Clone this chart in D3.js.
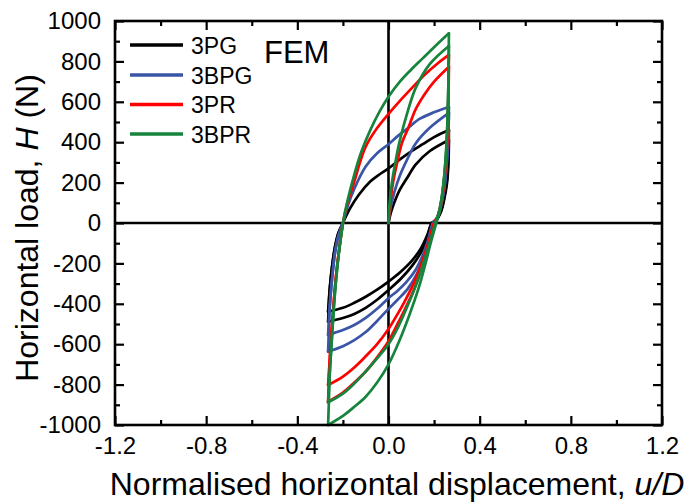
<!DOCTYPE html>
<html>
<head>
<meta charset="utf-8">
<script src="https://cdn.jsdelivr.net/npm/d3@7"></script>
<style>
  html, body { margin: 0; padding: 0; background: #fff; }
  svg { display: block; }
  text { font-family: "Liberation Sans", Arial, sans-serif; fill: #000; }
</style>
</head>
<body>
<svg id="chart" width="694" height="503"></svg>
<script>
// ---------------- data ----------------
const seriesNames = ["3PG", "3BPG", "3PR", "3BPR"];
const seriesColors = ["#000000", "#3a55a6", "#ff0000", "#17843d"];

const xTicks = [-1.2, -0.8, -0.4, 0.0, 0.4, 0.8, 1.2];
const xMinorTicks = [-1.0, -0.6, -0.2, 0.2, 0.6, 1.0];
const yTicks = [-1000, -800, -600, -400, -200, 0, 200, 400, 600, 800, 1000];
const yMinorTicks = [-900, -700, -500, -300, -100, 100, 300, 500, 700, 900];

// each series: branches [load, unload1, reload1, unload2, reload2], points [u/D, H]
const s3PG = [
  [[0,0],[0.01,50],[0.025,100],[0.05,165],[0.08,220],[0.12,290],[0.18,355],[0.265,411]],
  [[0.265,411],[0.263,300],[0.257,200],[0.245,120],[0.23,55],[0.21,15],[0.19,0],[0.17,-60],[0.14,-130],[0.1,-190],[0.05,-245],[0,-290],[-0.05,-330],[-0.1,-365],[-0.15,-395],[-0.2,-420],[-0.265,-439]],
  [[-0.265,-439],[-0.258,-330],[-0.248,-220],[-0.235,-120],[-0.22,-50],[-0.2,0],[-0.17,70],[-0.13,140],[-0.08,205],[-0.04,240],[0,270],[0.05,315],[0.1,355],[0.15,390],[0.2,425],[0.265,460]],
  [[0.265,460],[0.263,330],[0.257,220],[0.245,130],[0.23,60],[0.21,15],[0.19,0],[0.172,-65],[0.145,-140],[0.105,-210],[0.055,-275],[0,-332],[-0.05,-380],[-0.1,-420],[-0.15,-450],[-0.2,-470],[-0.265,-488]],
  [[-0.265,-488],[-0.262,-420],[-0.258,-330],[-0.248,-220],[-0.235,-120],[-0.22,-50],[-0.2,0]]
];
const s3BPG = [
  [[0,0],[0.01,80],[0.025,150],[0.05,235],[0.08,310],[0.12,395],[0.18,470],[0.265,545]],
  [[0.265,545],[0.262,400],[0.255,280],[0.245,170],[0.23,80],[0.213,25],[0.195,0],[0.175,-80],[0.15,-160],[0.12,-230],[0.08,-290],[0.04,-335],[0,-372],[-0.05,-425],[-0.1,-470],[-0.15,-505],[-0.2,-530],[-0.265,-554]],
  [[-0.265,-554],[-0.258,-420],[-0.248,-280],[-0.235,-150],[-0.22,-65],[-0.2,0],[-0.18,80],[-0.15,170],[-0.1,280],[-0.05,345],[0,390],[0.04,430],[0.08,465],[0.136,515],[0.2,548],[0.265,574]],
  [[0.265,574],[0.262,420],[0.255,290],[0.245,175],[0.23,85],[0.213,25],[0.195,0],[0.177,-80],[0.155,-170],[0.125,-250],[0.085,-325],[0.04,-380],[0,-425],[-0.05,-485],[-0.1,-540],[-0.15,-580],[-0.2,-610],[-0.265,-637]],
  [[-0.265,-637],[-0.262,-540],[-0.258,-420],[-0.248,-280],[-0.235,-150],[-0.22,-65],[-0.2,0]]
];
const s3PR = [
  [[0,0],[0.008,100],[0.02,200],[0.04,310],[0.06,400],[0.085,465],[0.12,565],[0.16,640],[0.2,700],[0.265,774]],
  [[0.265,774],[0.262,550],[0.256,360],[0.246,220],[0.232,100],[0.215,30],[0.2,0],[0.175,-100],[0.145,-200],[0.11,-300],[0.07,-390],[0.035,-460],[0,-525],[-0.05,-600],[-0.1,-660],[-0.15,-715],[-0.2,-760],[-0.265,-802]],
  [[-0.265,-802],[-0.258,-680],[-0.25,-540],[-0.24,-390],[-0.23,-260],[-0.217,-135],[-0.2,0],[-0.18,100],[-0.15,205],[-0.125,300],[-0.1,378],[-0.05,470],[0,540],[0.05,605],[0.1,665],[0.16,735],[0.21,785],[0.265,832]],
  [[0.265,832],[0.262,600],[0.256,390],[0.246,240],[0.232,110],[0.215,30],[0.2,0],[0.178,-100],[0.15,-210],[0.115,-320],[0.075,-420],[0.035,-510],[0,-585],[-0.05,-665],[-0.1,-735],[-0.15,-790],[-0.2,-840],[-0.265,-885]],
  [[-0.265,-885],[-0.262,-800],[-0.258,-680],[-0.25,-540],[-0.24,-390],[-0.23,-260],[-0.217,-135],[-0.2,0]]
];
const s3BPR = [
  [[0,0],[0.005,100],[0.015,200],[0.03,300],[0.05,410],[0.085,555],[0.12,670],[0.18,785],[0.265,876]],
  [[0.265,876],[0.262,650],[0.257,450],[0.248,280],[0.235,140],[0.22,50],[0.205,0],[0.18,-100],[0.15,-210],[0.12,-310],[0.08,-420],[0.04,-520],[0,-600],[-0.05,-670],[-0.1,-735],[-0.15,-795],[-0.2,-845],[-0.265,-888]],
  [[-0.265,-888],[-0.258,-750],[-0.25,-600],[-0.24,-420],[-0.23,-280],[-0.218,-150],[-0.2,0],[-0.18,110],[-0.15,240],[-0.12,350],[-0.08,460],[-0.04,550],[0,625],[0.05,700],[0.1,760],[0.15,815],[0.2,870],[0.265,939]],
  [[0.265,939],[0.263,700],[0.258,480],[0.25,300],[0.237,150],[0.223,50],[0.21,0],[0.185,-100],[0.16,-210],[0.13,-330],[0.09,-460],[0.045,-590],[0,-700],[-0.05,-790],[-0.1,-860],[-0.15,-910],[-0.2,-955],[-0.265,-1000]],
  [[-0.265,-1000],[-0.262,-900],[-0.258,-750],[-0.25,-600],[-0.24,-420],[-0.23,-280],[-0.218,-150],[-0.2,0]]
];
const seriesData = [s3PG, s3BPG, s3PR, s3BPR];

// ---------------- layout ----------------
const svg = d3.select("#chart");
const L = 115, R = 662, T = 21, B = 425;
const x = d3.scaleLinear().domain([-1.2, 1.2]).range([L, R]);
const y = d3.scaleLinear().domain([-1000, 1000]).range([B, T]);

// zero lines
svg.append("line").attr("x1", x(0)).attr("x2", x(0)).attr("y1", T).attr("y2", B)
  .attr("stroke", "#000").attr("stroke-width", 2.6);
svg.append("line").attr("x1", L).attr("x2", R).attr("y1", y(0)).attr("y2", y(0))
  .attr("stroke", "#000").attr("stroke-width", 2.6);

// data curves
const lineGen = d3.line().x(d => x(d[0])).y(d => y(d[1])).curve(d3.curveCatmullRom.alpha(0.5));
seriesData.forEach((branches, i) => {
  const g = svg.append("g");
  branches.forEach(br => {
    g.append("path").attr("d", lineGen(br)).attr("fill", "none")
      .attr("stroke", seriesColors[i]).attr("stroke-width", 2.7)
      .attr("stroke-linejoin", "round").attr("stroke-linecap", "round");
  });
});

// axes (ticks inward on all sides)
const majorLen = 9, minorLen = 5;
const fmtX = d => d.toFixed(1);
const fmtY = d => String(d);
const axB = d3.axisBottom(x).tickValues(xTicks).tickSize(-majorLen).tickPadding(majorLen + 3).tickFormat(fmtX);
const axBm = d3.axisBottom(x).tickValues(xMinorTicks).tickSize(-minorLen).tickFormat("");
const axT = d3.axisTop(x).tickValues(xTicks).tickSize(-majorLen).tickFormat("");
const axTm = d3.axisTop(x).tickValues(xMinorTicks).tickSize(-minorLen).tickFormat("");
const axL = d3.axisLeft(y).tickValues(yTicks).tickSize(-majorLen).tickPadding(majorLen + 5).tickFormat(fmtY);
const axLm = d3.axisLeft(y).tickValues(yMinorTicks).tickSize(-minorLen).tickFormat("");
const axR = d3.axisRight(y).tickValues(yTicks).tickSize(-majorLen).tickFormat("");
const axRm = d3.axisRight(y).tickValues(yMinorTicks).tickSize(-minorLen).tickFormat("");

function styleAxis(g) {
  g.select(".domain").remove();
  g.selectAll(".tick line").attr("stroke", "#000").attr("stroke-width", 2.2);
  g.selectAll(".tick text").attr("font-size", 24).attr("font-family", "Liberation Sans, Arial, sans-serif").attr("fill", "#000");
}
svg.append("g").attr("transform", `translate(0,${B})`).call(axB).call(styleAxis);
svg.append("g").attr("transform", `translate(0,${B})`).call(axBm).call(styleAxis);
svg.append("g").attr("transform", `translate(0,${T})`).call(axT).call(styleAxis);
svg.append("g").attr("transform", `translate(0,${T})`).call(axTm).call(styleAxis);
svg.append("g").attr("transform", `translate(${L},0)`).call(axL).call(styleAxis);
svg.append("g").attr("transform", `translate(${L},0)`).call(axLm).call(styleAxis);
svg.append("g").attr("transform", `translate(${R},0)`).call(axR).call(styleAxis);
svg.append("g").attr("transform", `translate(${R},0)`).call(axRm).call(styleAxis);

// frame
svg.append("rect").attr("x", L).attr("y", T).attr("width", R - L).attr("height", B - T)
  .attr("fill", "none").attr("stroke", "#000").attr("stroke-width", 2.6);

// axis titles
const xt = svg.append("text").attr("x", 397).attr("y", 495)
  .attr("text-anchor", "middle").attr("font-size", 32);
xt.append("tspan").text("Normalised horizontal displacement, ");
xt.append("tspan").attr("font-style", "italic").text("u/D");

const yt = svg.append("text").attr("transform", `translate(38,228) rotate(-90)`)
  .attr("text-anchor", "middle").attr("font-size", 32);
yt.append("tspan").text("Horizontal load, ");
yt.append("tspan").attr("font-style", "italic").text("H");
yt.append("tspan").text(" (N)");

// legend
const legY = [45, 75, 104.5, 134];
seriesNames.forEach((n, i) => {
  svg.append("line").attr("x1", 130).attr("x2", 183).attr("y1", legY[i]).attr("y2", legY[i])
    .attr("stroke", seriesColors[i]).attr("stroke-width", 3.3);
  svg.append("text").attr("x", 191).attr("y", legY[i] + 8.5).attr("font-size", 23).text(n);
});
svg.append("text").attr("x", 264).attr("y", 63).attr("font-size", 31).text("FEM");
</script>
</body>
</html>
